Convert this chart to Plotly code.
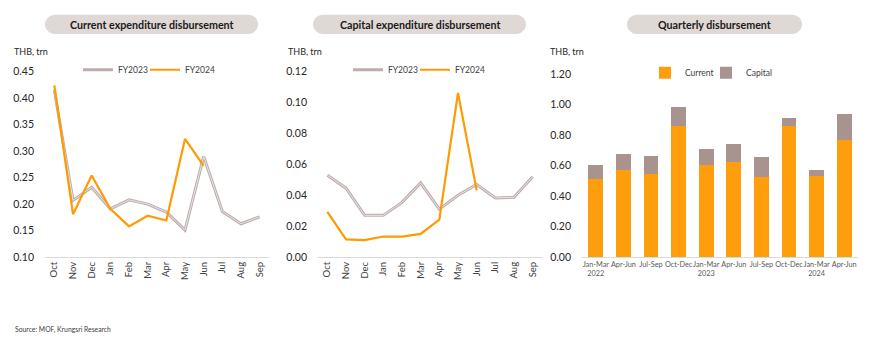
import plotly.graph_objects as go

W, H = 870, 350

months = ["Oct", "Nov", "Dec", "Jan", "Feb", "Mar", "Apr", "May", "Jun", "Jul", "Aug", "Sep"]
cur_fy2023 = [0.415, 0.207, 0.232, 0.191, 0.208, 0.200, 0.185, 0.151, 0.290, 0.186, 0.163, 0.176]
cur_fy2024 = [0.424, 0.181, 0.254, 0.191, 0.158, 0.178, 0.169, 0.323, 0.272]
cap_fy2023 = [0.053, 0.0446, 0.027, 0.027, 0.0354, 0.048, 0.031, 0.040, 0.047, 0.0383, 0.0387, 0.052]
cap_fy2024 = [0.0293, 0.0114, 0.011, 0.0133, 0.0133, 0.015, 0.0242, 0.1063, 0.0432]

quarters = ["Jan-Mar<br>2022", "Apr-Jun", "Jul-Sep", "Oct-Dec", "Jan-Mar<br>2023", "Apr-Jun",
            "Jul-Sep", "Oct-Dec", "Jan-Mar<br>2024", "Apr-Jun"]
q_ids = ["Q1-22", "Q2-22", "Q3-22", "Q4-22", "Q1-23", "Q2-23", "Q3-23", "Q4-23", "Q1-24", "Q2-24"]
q_current = [0.515, 0.572, 0.547, 0.860, 0.602, 0.625, 0.526, 0.862, 0.532, 0.767]
q_capital = [0.091, 0.106, 0.116, 0.122, 0.108, 0.116, 0.129, 0.048, 0.038, 0.169]

titles = ["Current expenditure disbursement", "Capital expenditure disbursement", "Quarterly disbursement"]

FONT = "Lato"
GREY = "#BCAEAC"
GREY_IN = "#E9E3E2"
ORANGE = "#FF9A00"
BAR_OR = "#FF9E0C"
BAR_GR = "#A9938F"
PILL = "#DFD8D5"


def px(x):
    return x / W


def py(y):
    return 1 - y / H


fig = go.Figure()


def spacer(legend, xa, ya):
    # invisible trailing legend entry so the last real entry is not clipped
    fig.add_trace(go.Scatter(x=[None], y=[None], mode="lines", name=" ", hoverinfo="skip",
                             line=dict(color="rgba(0,0,0,0)", width=0), legend=legend,
                             xaxis=xa, yaxis=ya))


# Panel 1
fig.add_trace(go.Scatter(x=months, y=cur_fy2023, mode="lines", name="FY2023",
                         line=dict(color=GREY, width=3), legend="legend", xaxis="x", yaxis="y"))
fig.add_trace(go.Scatter(x=months, y=cur_fy2023, mode="lines", showlegend=False, hoverinfo="skip",
                         line=dict(color=GREY_IN, width=1), xaxis="x", yaxis="y"))
fig.add_trace(go.Scatter(x=months[:len(cur_fy2024)], y=cur_fy2024, mode="lines", name="FY2024",
                         line=dict(color=ORANGE, width=2.2), legend="legend", xaxis="x", yaxis="y"))
spacer("legend", "x", "y")

# Panel 2
fig.add_trace(go.Scatter(x=months, y=cap_fy2023, mode="lines", name="FY2023",
                         line=dict(color=GREY, width=3), legend="legend2", xaxis="x2", yaxis="y2"))
fig.add_trace(go.Scatter(x=months, y=cap_fy2023, mode="lines", showlegend=False, hoverinfo="skip",
                         line=dict(color=GREY_IN, width=1), xaxis="x2", yaxis="y2"))
fig.add_trace(go.Scatter(x=months[:len(cap_fy2024)], y=cap_fy2024, mode="lines", name="FY2024",
                         line=dict(color=ORANGE, width=2.2), legend="legend2", xaxis="x2", yaxis="y2"))
spacer("legend2", "x2", "y2")

# Panel 3
fig.add_trace(go.Bar(x=q_ids, y=q_current, name="Current", marker=dict(color=BAR_OR, line=dict(width=0)),
                     legend="legend3", xaxis="x3", yaxis="y3"))
fig.add_trace(go.Bar(x=q_ids, y=q_capital, name="Capital", marker=dict(color=BAR_GR, line=dict(width=0)),
                     legend="legend3", xaxis="x3", yaxis="y3"))
spacer("legend3", "x3", "y3")

ydom = [py(260), py(68)]
ydom3 = [py(260), py(70.5)]

xcommon = dict(showgrid=False, zeroline=False, showline=True, linecolor="#D9D9D9", linewidth=1,
               ticks="", fixedrange=True)
ycommon = dict(showgrid=False, zeroline=False, showline=False, ticks="", tickformat=".2f",
               tickfont=dict(size=10.5, color="#262626", family=FONT), ticklabelstandoff=10)
monthfont = dict(size=9.5, color="#404040", family=FONT)

fig.update_layout(
    width=W, height=H, margin=dict(l=0, r=0, t=0, b=0),
    paper_bgcolor="white", plot_bgcolor="white",
    font=dict(family=FONT, color="#262626"),
    barmode="stack", bargap=0.46,
    xaxis=dict(domain=[px(45), px(269)], tickangle=-90, anchor="y", range=[-0.5, 11.5],
               tickfont=monthfont, **xcommon),
    yaxis=dict(domain=ydom, range=[0.10, 0.45], dtick=0.05, anchor="x", **ycommon),
    xaxis2=dict(domain=[px(318), px(542)], tickangle=-90, anchor="y2", range=[-0.5, 11.5],
                tickfont=monthfont, **xcommon),
    yaxis2=dict(domain=ydom, range=[0, 0.12], dtick=0.02, anchor="x2", **ycommon),
    xaxis3=dict(domain=[px(582), px(858)], tickangle=0, anchor="y3",
                tickvals=q_ids, ticktext=quarters,
                tickfont=dict(size=7.3, color="#595959", family=FONT), **xcommon),
    yaxis3=dict(domain=ydom3, range=[0, 1.2], dtick=0.2, anchor="x3", **ycommon),
    legend=dict(orientation="h", x=px(78), y=py(66), xanchor="left", yanchor="middle",
                font=dict(size=8.5, family=FONT, color="#404040"), itemwidth=30,
                entrywidth=22, bgcolor="rgba(0,0,0,0)", traceorder="normal"),
    legend2=dict(orientation="h", x=px(348), y=py(66), xanchor="left", yanchor="middle",
                 font=dict(size=8.5, family=FONT, color="#404040"), itemwidth=30,
                 entrywidth=22, bgcolor="rgba(0,0,0,0)", traceorder="normal"),
    legend3=dict(orientation="h", x=px(645), y=py(69), xanchor="left", yanchor="middle",
                 font=dict(size=8.5, family=FONT, color="#404040"), itemwidth=30,
                 entrywidth=16, bgcolor="rgba(0,0,0,0)", traceorder="normal"),
    showlegend=True,
)

# Title pills
pills = [(45, 258), (313, 526), (627, 802)]
y0, y1 = 9, 29
r = (y1 - y0) / 2
k = 0.5523
shapes = []
annotations = []
for (x0, x1), t in zip(pills, titles):
    path = (
        f"M {px(x0 + r)},{py(y0)} L {px(x1 - r)},{py(y0)} "
        f"C {px(x1 - r + k * r)},{py(y0)} {px(x1)},{py(y0 + r - k * r)} {px(x1)},{py(y0 + r)} "
        f"C {px(x1)},{py(y0 + r + k * r)} {px(x1 - r + k * r)},{py(y1)} {px(x1 - r)},{py(y1)} "
        f"L {px(x0 + r)},{py(y1)} "
        f"C {px(x0 + r - k * r)},{py(y1)} {px(x0)},{py(y1 - r + k * r)} {px(x0)},{py(y1 - r)} "
        f"C {px(x0)},{py(y0 + r - k * r)} {px(x0 + r - k * r)},{py(y0)} {px(x0 + r)},{py(y0)} Z"
    )
    shapes.append(dict(type="path", path=path, xref="paper", yref="paper",
                       fillcolor=PILL, line=dict(width=0), layer="below"))
    annotations.append(dict(text=f"<b>{t}</b>", x=px((x0 + x1) / 2), y=py((y0 + y1) / 2),
                            xref="paper", yref="paper", showarrow=False,
                            xanchor="center", yanchor="middle",
                            font=dict(size=10.7, family=FONT, color="#1A1A1A")))

for xpos in [12, 286, 548]:
    annotations.append(dict(text="THB, trn", x=px(xpos), y=py(47), xref="paper", yref="paper",
                            showarrow=False, xanchor="left", yanchor="middle",
                            font=dict(size=9, family=FONT, color="#262626")))

annotations.append(dict(text="Source: MOF, Krungsri Research", x=px(13), y=py(335),
                        xref="paper", yref="paper", showarrow=False, xanchor="left",
                        yanchor="middle", font=dict(size=6.8, family=FONT, color="#404040")))

fig.update_layout(shapes=shapes, annotations=annotations)

fig.write_html("out.html")
